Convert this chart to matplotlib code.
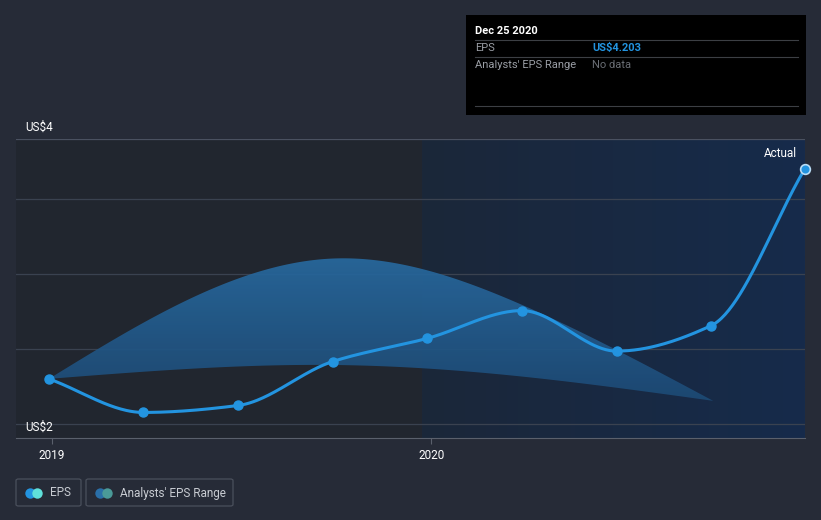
import matplotlib
matplotlib.use("Agg")
from matplotlib import pyplot as plt
from matplotlib.patches import FancyBboxPatch, Rectangle
from matplotlib.colors import LinearSegmentedColormap
import matplotlib.dates as mdates
import numpy as np
import datetime as dt

plt.rcParams['font.family'] = ['Roboto', 'DejaVu Sans']

# data
dates = ['2018-12-29', '2019-03-30', '2019-06-29', '2019-09-28', '2019-12-28',
         '2020-03-28', '2020-06-27', '2020-09-26', '2020-12-25']
eps = [2.39, 2.10, 2.16, 2.54, 2.74, 2.98, 2.63, 2.85, 4.203]

range_dates = ['2018-12-29', '2019-09-28', '2020-03-28', '2020-09-28']
range_high = [2.39, 3.43, 3.03, 2.20]
range_low = [2.39, 2.51, 2.41, 2.20]

grid_vals = [2.0, 2.648, 3.296, 3.945]
year_ticks = ['2019-01-01', '2020-01-01']
year_labels = ['2019', '2020']


def todate(s):
    return mdates.date2num(dt.datetime.strptime(s, '%Y-%m-%d'))


def monotone(x, y, n=400):
    # monotone cubic (like d3 curveMonotoneX), only for drawing the line smooth
    x = np.asarray(x, float); y = np.asarray(y, float)
    h = np.diff(x); d = np.diff(y) / h
    m = np.zeros_like(y)
    m[0] = d[0]; m[-1] = d[-1]
    for i in range(1, len(y) - 1):
        if d[i-1] * d[i] <= 0:
            m[i] = 0
        else:
            m[i] = 3 * (h[i-1] + h[i]) / ((2*h[i] + h[i-1]) / d[i-1] + (h[i] + 2*h[i-1]) / d[i])
    xs = np.linspace(x[0], x[-1], n)
    ys = np.zeros_like(xs)
    for k, xv in enumerate(xs):
        i = min(np.searchsorted(x, xv, side='right') - 1, len(x) - 2)
        t = (xv - x[i]) / h[i]
        h00 = 2*t**3 - 3*t**2 + 1; h10 = t**3 - 2*t**2 + t
        h01 = -2*t**3 + 3*t**2; h11 = t**3 - t**2
        ys[k] = h00*y[i] + h10*h[i]*m[i] + h01*y[i+1] + h11*h[i]*m[i+1]
    return xs, ys


def natural(x, y, n=400):
    # natural cubic spline, only for drawing the band smooth
    x = np.asarray(x, float); y = np.asarray(y, float)
    N = len(x); h = np.diff(x)
    A = np.zeros((N, N)); b = np.zeros(N)
    A[0, 0] = 1; A[-1, -1] = 1
    for i in range(1, N - 1):
        A[i, i-1] = h[i-1]; A[i, i] = 2*(h[i-1] + h[i]); A[i, i+1] = h[i]
        b[i] = 6*((y[i+1]-y[i])/h[i] - (y[i]-y[i-1])/h[i-1])
    M = np.linalg.solve(A, b)
    xs = np.linspace(x[0], x[-1], n)
    ys = np.zeros_like(xs)
    for k, xv in enumerate(xs):
        i = min(np.searchsorted(x, xv, side='right') - 1, N - 2)
        a = x[i+1] - xv; c = xv - x[i]
        ys[k] = (M[i]*a**3 + M[i+1]*c**3)/(6*h[i]) + (y[i]/h[i] - M[i]*h[i]/6)*a + (y[i+1]/h[i] - M[i+1]*h[i]/6)*c
    return xs, ys


bg = '#262b37'
fig = plt.figure(figsize=(8.21, 5.2), dpi=100, facecolor=bg)
ax = fig.add_axes([16/821, (520-438)/520, (805-16)/821, (438-139)/520])
ax.set_facecolor('#21262f')

x_eps = [todate(d) for d in dates]
x_rng = [todate(d) for d in range_dates]
xmin = todate('2019-01-01') - 36/380*365
xmax = todate('2020-12-25') + 0.3
ymin, ymax = 1.879, 4.463
ax.set_xlim(xmin, xmax)
ax.set_ylim(ymin, ymax)

# forecast region shading (gradient)
x0 = todate('2019-12-23')
grad = np.linspace(0, 1, 256).reshape(1, -1)
cm = LinearSegmentedColormap.from_list('g', ['#1b2739', '#162b4b'])
ax.imshow(grad, extent=[x0, xmax, ymin, ymax], aspect='auto', cmap=cm, zorder=0)

for g in grid_vals:
    ax.axhline(g, color='#3a4250', lw=0.9, zorder=1)
ax.axhline(ymax, color='#4a5160', lw=0.9, zorder=1)

# analysts range band with vertical gradient
xh, yh = natural(x_rng, range_high)
xl, yl = natural(x_rng, range_low)
poly = ax.fill_between(xh, yl, yh, color='none', lw=0, zorder=2)
bcm = LinearSegmentedColormap.from_list('b', ['#1d4a75', '#286aa0'])
vgrad = np.linspace(0, 1, 256).reshape(-1, 1)
im = ax.imshow(vgrad, extent=[x_rng[0], x_rng[-1], min(range_low), max(range_high)],
               origin='lower', aspect='auto', cmap=bcm, alpha=0.92, zorder=2)
im.set_clip_path(poly.get_paths()[0], transform=ax.transData)
ax.set_xlim(xmin, xmax)
ax.set_ylim(ymin, ymax)

# EPS line
xs, ys = monotone(x_eps, eps)
ax.plot(xs, ys, color='#2394e0', lw=2.2, zorder=3, solid_capstyle='round')
ax.plot(x_eps[:-1], eps[:-1], 'o', color='#2394e0', ms=6.5, zorder=4)
ax.plot(x_eps[-1:], eps[-1:], 'o', mfc='#2394e0', mec='#b9dcf5', mew=1.2, ms=7, zorder=5, clip_on=False)

ax.text(xmax - 8, 4.34, 'Actual', color='white', fontsize=8.5, ha='right', va='center', zorder=6)

for s in ['top', 'left', 'right']:
    ax.spines[s].set_visible(False)
ax.spines['bottom'].set_color('#5a606c')
ax.set_yticks([])
ax.set_xticks([todate(t) for t in year_ticks])
ax.set_xticklabels(year_labels)
ax.tick_params(axis='x', colors='#5a606c', labelcolor='white', labelsize=8.5, length=4, pad=4)

fig.text(25/821, 1 - 127/520, 'US$4', color='white', fontsize=8.5, va='center')
fig.text(25/821, 1 - 427/520, 'US$2', color='white', fontsize=8.5, va='center')

# tooltip box
fig.patches.append(Rectangle((466/821, 1 - 115/520), 340/821, 100/520, transform=fig.transFigure,
                             facecolor='black', edgecolor='none'))
fig.text(475/821, 1 - 31/520, 'Dec 25 2020', color='white', fontsize=8, fontweight='bold', va='center')
for yy in [40, 57, 106]:
    fig.add_artist(plt.Line2D([475/821, 798/821], [1 - yy/520]*2, color='#3c3f44', lw=0.8))
fig.text(475/821, 1 - 48/520, 'EPS', color='#9a9ea5', fontsize=8, va='center')
fig.text(592/821, 1 - 48/520, 'US$4.203', color='#2394e0', fontsize=8, fontweight='bold', va='center')
fig.text(475/821, 1 - 65/520, "Analysts' EPS Range", color='#9a9ea5', fontsize=8, va='center')
fig.text(592/821, 1 - 65/520, 'No data', color='#6a6e75', fontsize=8, va='center')


# legend
def legend_box(x, w, label, c1, c2):
    fig.patches.append(FancyBboxPatch((x/821, 1 - 506/520), w/821, 27/520, transform=fig.transFigure,
                                      boxstyle='round,pad=0,rounding_size=0.003',
                                      facecolor='none', edgecolor='#4a505c', lw=0.9))
    fig.add_artist(plt.Line2D([(x+14)/821], [1 - 493/520], marker='o', ms=7.5, color=c1, mec='none'))
    fig.add_artist(plt.Line2D([(x+21)/821], [1 - 493/520], marker='o', ms=7.5, color=c2, mec='none'))
    fig.text((x+34)/821, 1 - 493/520, label, color='#c8ccd2', fontsize=8.5, va='center')


legend_box(16, 65, 'EPS', '#2394e0', '#5fe0da')
legend_box(86, 147, "Analysts' EPS Range", '#2a6fa8', '#4a9a98')

fig.savefig('out.png', dpi=100, facecolor=bg)
